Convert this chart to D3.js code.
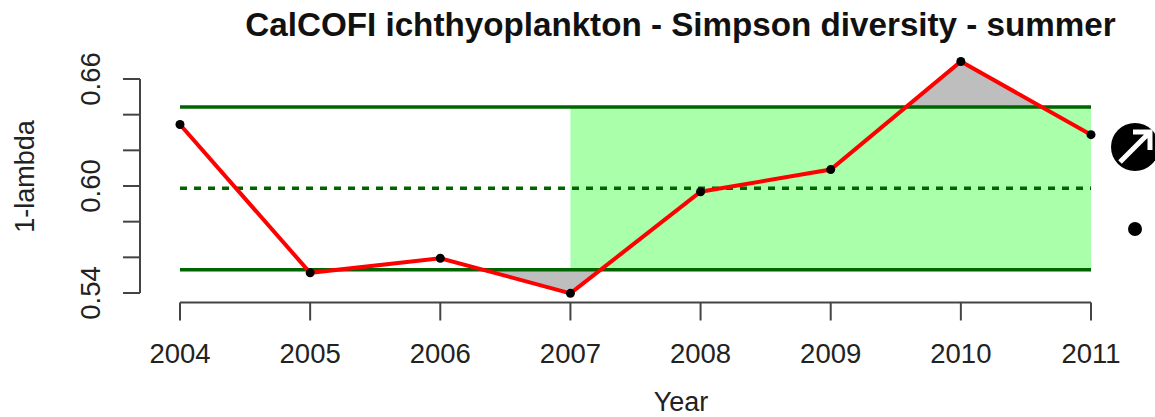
<!DOCTYPE html>
<html><head><meta charset="utf-8">
<script src="https://cdn.jsdelivr.net/npm/d3@7"></script>
<style>
html,body{margin:0;padding:0;background:#fff;overflow:hidden}
svg{display:block;font-family:"Liberation Sans",Arial,sans-serif}
</style></head><body>
<svg id="c" width="1155" height="417"></svg>
<script>
const years=[2004,2005,2006,2007,2008,2009,2010,2011];
const values=[0.6345,0.5513,0.5595,0.5398,0.5968,0.6092,0.6698,0.6288];
const upperLimit=[0.6443];
const meanLevel=[0.5988];
const lowerLimit=[0.5530];
const recentStart=[2007];
const yTicks=[0.54,0.56,0.58,0.60,0.62,0.64,0.66];
const yLabels=[0.54,0.60,0.66];
const titleText="CalCOFI ichthyoplankton - Simpson diversity - summer";

const x=d3.scaleLinear().domain([2004,2011]).range([180,1091]);
const y=d3.scaleLinear().domain([0.54,0.66]).range([293,79]);
const svg=d3.select("#c");
const data=years.map((yr,i)=>({yr,v:values[i]}));
const up=upperLimit[0],lo=lowerLimit[0],mean=meanLevel[0];

svg.append("rect").attr("x",x(recentStart[0])).attr("width",x(2011)-x(recentStart[0]))
  .attr("y",y(up)).attr("height",y(lo)-y(up)).attr("fill","#aaffaa");

const defs=svg.append("defs");
defs.append("clipPath").attr("id","above").append("rect").attr("x",0).attr("y",0).attr("width",1155).attr("height",y(up));
defs.append("clipPath").attr("id","below").append("rect").attr("x",0).attr("y",y(lo)).attr("width",1155).attr("height",417-y(lo));
const area=b=>d3.area().x(d=>x(d.yr)).y0(y(b)).y1(d=>y(d.v));
svg.append("path").attr("d",area(up)(data)).attr("fill","#bebebe").attr("clip-path","url(#above)");
svg.append("path").attr("d",area(lo)(data.filter(d=>d.yr>=2006))).attr("fill","#bebebe").attr("clip-path","url(#below)");

[up,lo].forEach(v=>svg.append("line").attr("x1",x(2004)).attr("x2",x(2011)).attr("y1",y(v)).attr("y2",y(v))
  .attr("stroke","#006400").attr("stroke-width",3.5));
svg.append("line").attr("x1",x(2004)).attr("x2",x(2011)).attr("y1",y(mean)).attr("y2",y(mean))
  .attr("stroke","#006400").attr("stroke-width",3.5).attr("stroke-dasharray","7 7");

svg.append("path").datum(data).attr("d",d3.line().x(d=>x(d.yr)).y(d=>y(d.v)))
  .attr("fill","none").attr("stroke","#f00").attr("stroke-width",4);
svg.selectAll("circle.pt").data(data).join("circle").attr("class","pt")
  .attr("cx",d=>x(d.yr)).attr("cy",d=>y(d.v)).attr("r",4.5).attr("fill","#000");

const gx=svg.append("g").attr("transform","translate(0,302.5)")
  .call(d3.axisBottom(x).offset(0).tickValues(years).tickFormat(d3.format("d")).tickSize(18).tickSizeOuter(0));
gx.selectAll("text").attr("font-size",27.5).attr("fill","#222").attr("font-family","'Liberation Sans',Arial,sans-serif")
  .attr("y",60.5).attr("dy",0);
const gy=svg.append("g").attr("transform","translate(140,0)")
  .call(d3.axisLeft(y).offset(0).tickValues(yTicks).tickFormat(d=>yLabels.some(l=>Math.abs(l-d)<1e-9)?d3.format(".2f")(d):"").tickSize(17).tickSizeOuter(0));
gy.selectAll("text").attr("font-size",27.5).attr("fill","#222").attr("font-family","'Liberation Sans',Arial,sans-serif")
  .attr("text-anchor","middle").attr("dy",0).attr("x",0).attr("y",0)
  .attr("transform","translate(-40,0) rotate(-90)");
svg.selectAll(".domain,.tick line").attr("stroke","#444").attr("stroke-width",2);

svg.append("text").attr("x",680.5).attr("y",36).attr("text-anchor","middle").attr("font-size",33.2).attr("font-weight","bold").attr("fill","#111").text(titleText);
svg.append("text").attr("x",681).attr("y",411).attr("text-anchor","middle").attr("font-size",27).attr("fill","#222").text("Year");
svg.append("text").attr("transform","translate(34,176.5) rotate(-90)").attr("text-anchor","middle").attr("font-size",27).attr("fill","#222").text("1-lambda");

const tr=svg.append("g").attr("transform","translate(1135,147)");
tr.append("circle").attr("r",24).attr("fill","#000");
tr.append("path").attr("d","M-15,15 L15,-15 M-2,-15 L15,-15 L15,3").attr("stroke","#fff").attr("stroke-width",5).attr("fill","none");
svg.append("circle").attr("cx",1135).attr("cy",229).attr("r",7).attr("fill","#000");
</script></body></html>
